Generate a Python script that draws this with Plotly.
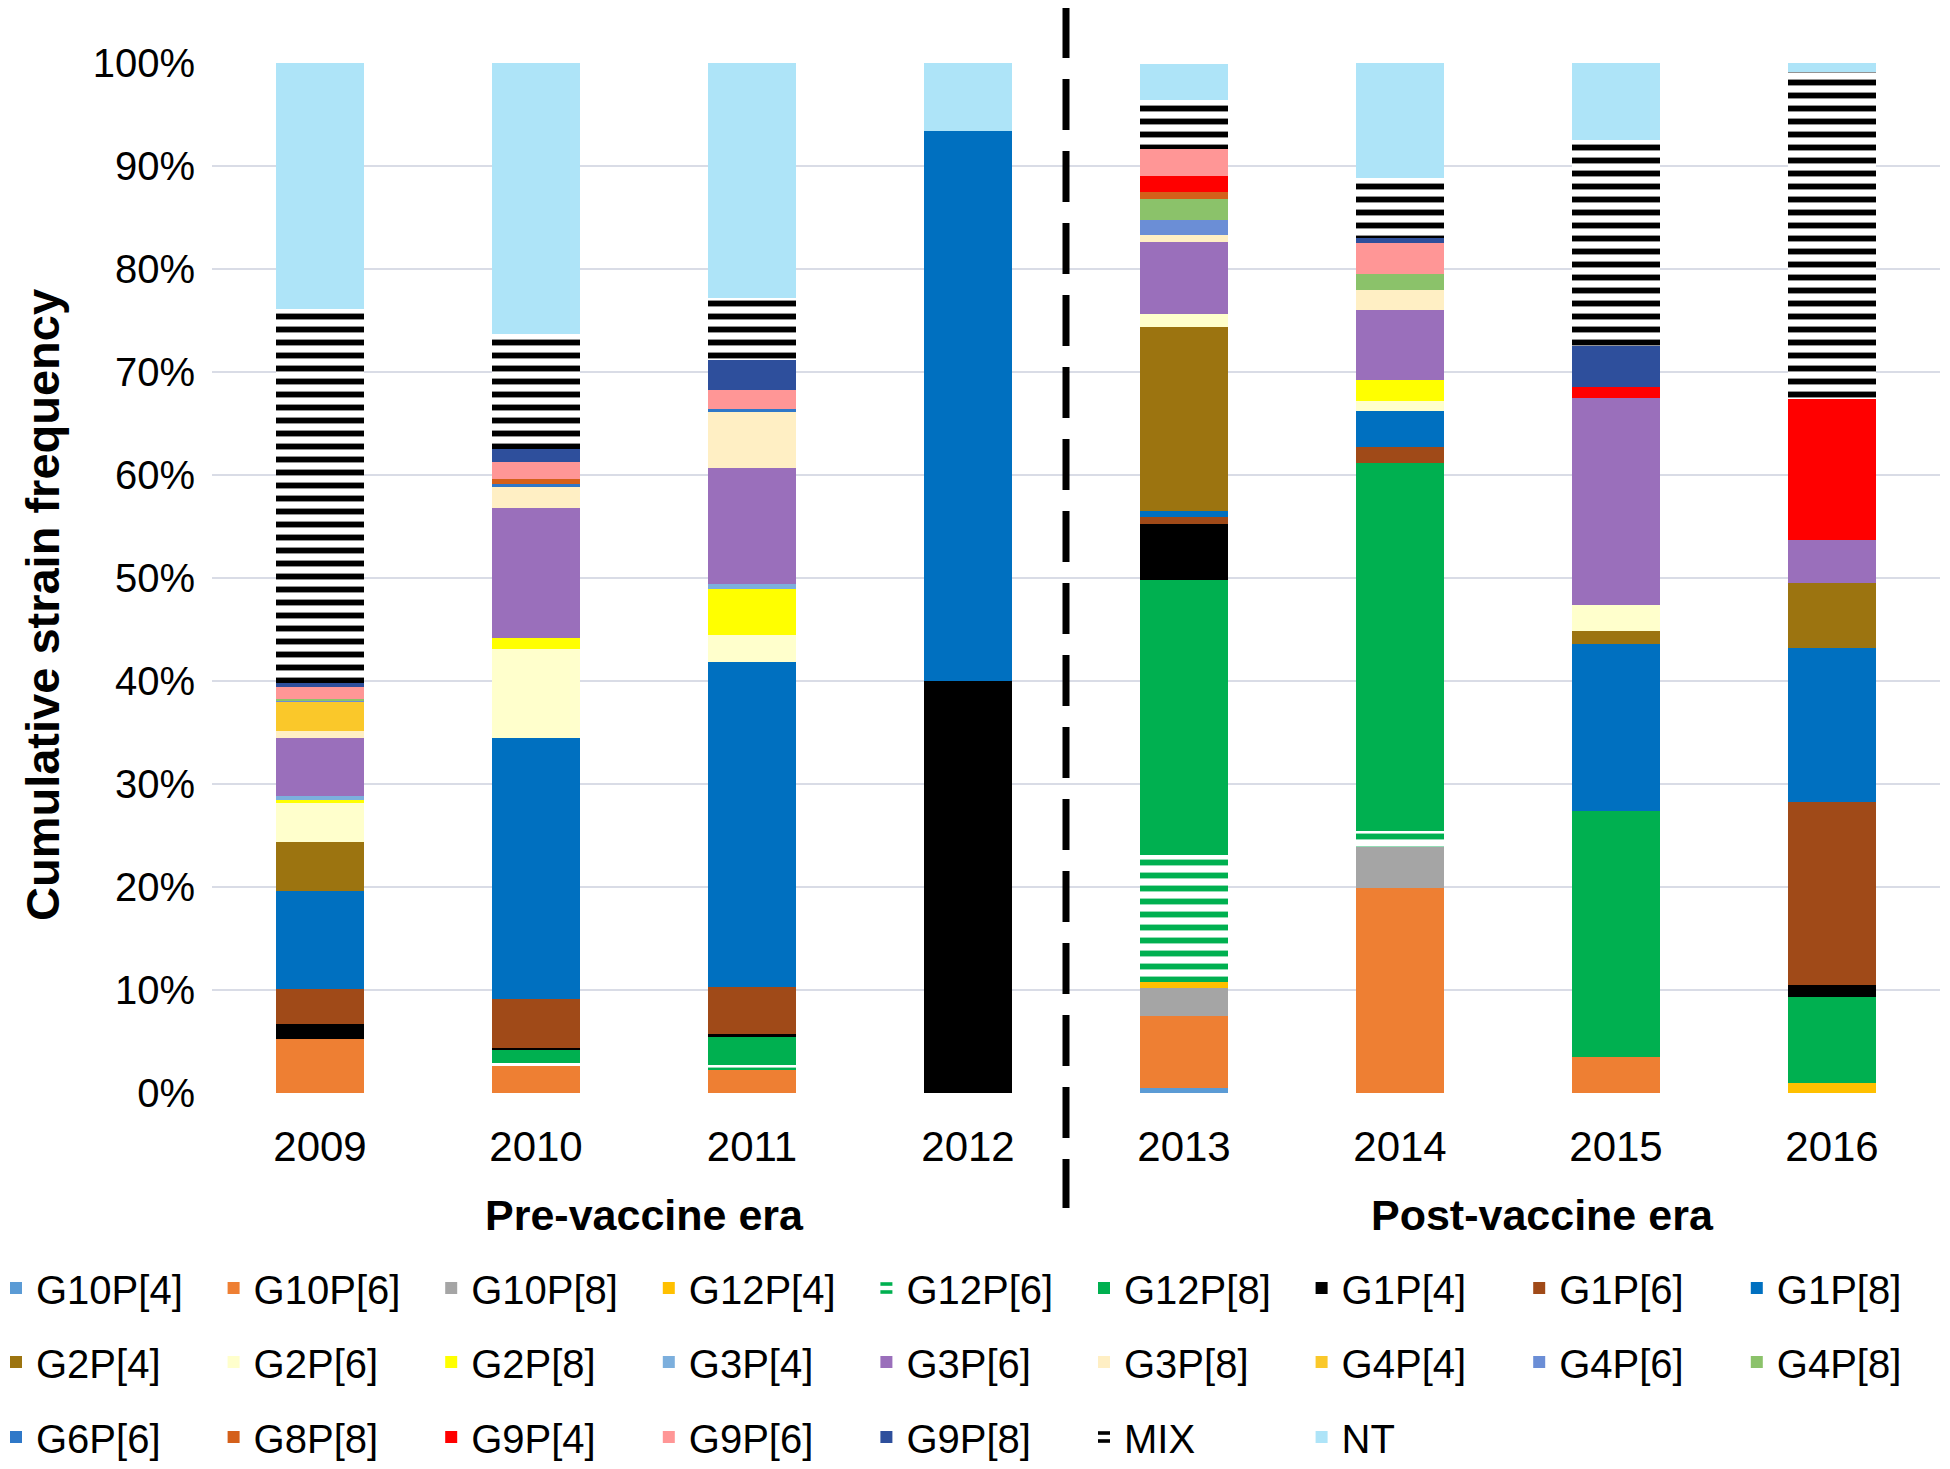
import plotly.graph_objects as go

years = ["2009", "2010", "2011", "2012", "2013", "2014", "2015", "2016"]

strains = ["G10P[4]", "G10P[6]", "G10P[8]", "G12P[4]", "G12P[6]", "G12P[8]", "G1P[4]", "G1P[6]", "G1P[8]",
           "G2P[4]", "G2P[6]", "G2P[8]", "G3P[4]", "G3P[6]", "G3P[8]", "G4P[4]", "G4P[6]", "G4P[8]",
           "G6P[6]", "G8P[8]", "G9P[4]", "G9P[6]", "G9P[8]", "MIX", "NT"]

# percentage of strains per year, stacked bottom -> top
G10P4 = [0, 0, 0, 0, 0.5, 0, 0, 0]
G10P6 = [5.2, 2.65, 2.2, 0, 7.0, 19.9, 3.5, 0]
G10P8 = [0, 0, 0, 0, 2.65, 4.0, 0, 0]
G12P4 = [0, 0, 0, 0, 0.65, 0, 0, 1.0]
G12P6 = [0, 0.3, 0.5, 0, 12.3, 1.5, 0, 0]
G12P8 = [0, 1.3, 2.7, 0, 26.7, 35.8, 23.9, 8.3]
G1P4 = [1.5, 0.15, 0.3, 40.0, 5.4, 0, 0, 1.2]
G1P6 = [3.4, 4.7, 4.6, 0, 0.7, 1.5, 0, 17.8]
G1P8 = [9.5, 25.4, 31.5, 53.4, 0.6, 3.5, 16.2, 14.9]
G2P4 = [4.8, 0, 0, 0, 17.9, 0, 1.3, 6.3]
G2P6 = [3.8, 8.6, 2.7, 0, 1.2, 1.0, 2.5, 0]
G2P8 = [0.2, 1.1, 4.4, 0, 0, 2.0, 0, 0]
G3P4 = [0.4, 0, 0.5, 0, 0, 0, 0, 0]
G3P6 = [5.7, 12.6, 11.3, 0, 7.0, 6.8, 20.1, 4.2]
G3P8 = [0.6, 2.0, 5.4, 0, 0.7, 2.0, 0, 0]
G4P4 = [2.9, 0, 0, 0, 0, 0, 0, 0]
G4P6 = [0.15, 0, 0, 0, 1.5, 0, 0, 0]
G4P8 = [0.15, 0, 0, 0, 2.0, 1.5, 0, 0]
G6P6 = [0, 0.3, 0.3, 0, 0, 0, 0, 0]
G8P8 = [0, 0.5, 0, 0, 0.7, 0, 0, 0]
G9P4 = [0, 0, 0, 0, 1.5, 0, 1.0, 13.7]
G9P6 = [1.1, 1.7, 1.9, 0, 2.65, 3.0, 0, 0]
G9P8 = [0.4, 1.2, 2.9, 0, 0, 0.5, 4.0, 0]
MIX = [36.3, 11.2, 6.0, 0, 4.8, 5.8, 20.0, 31.7]
NT = [23.9, 26.3, 22.8, 6.6, 3.5, 11.2, 7.5, 0.9]

values = [G10P4, G10P6, G10P8, G12P4, G12P6, G12P8, G1P4, G1P6, G1P8,
          G2P4, G2P6, G2P8, G3P4, G3P6, G3P8, G4P4, G4P6, G4P8,
          G6P6, G8P8, G9P4, G9P6, G9P8, MIX, NT]

colors = ["#5B9BD5", "#EE7F33", "#A5A5A5", "#FFC000", "#00B050", "#00B050", "#000000", "#A04A18", "#0070C0",
          "#9C7410", "#FFFFCC", "#FFFF00", "#7CAFDD", "#9A6FBB", "#FFEFC4", "#FAC82A", "#6B8ED6", "#8BC26A",
          "#2F78C8", "#D4601A", "#FF0000", "#FF9696", "#2E4F9C", "#000000", "#AEE4F8"]

striped = {"G12P[6]", "MIX"}

FONT = "Liberation Sans, Arial, sans-serif"

# page body has an 8px margin: figure coordinates = screen coordinates - 8
OFF = 8
W, H = 1950 - OFF, 1469 - OFF
PL, PR, PT, PB = 212, 1940, 63, 1093  # plot area in screen pixels
L, T = PL - OFF, PT - OFF
R, B = W - (PR - OFF), H - (PB - OFF)
pw, ph = PR - PL, PB - PT


def px_x(x):
    return (x - PL) / pw


def px_y(y):
    return (PB - y) / ph


COLW = 217.6  # legend column spacing in px
row_y = [1288, 1362, 1437]

fig = go.Figure()
for i, (name, vals, col) in enumerate(zip(strains, values, colors)):
    row, c = divmod(i, 9)
    part = 0 if c < 5 else 1
    idx = row * 2 + part + 1
    leg = "legend" if idx == 1 else "legend%d" % idx
    marker = dict(color=col, line=dict(width=0))
    if name in striped:
        marker["pattern"] = dict(shape="-", fgcolor=col, bgcolor="white", fgopacity=1,
                                 size=13, solidity=0.45)
    fig.add_trace(go.Bar(x=years, y=vals, name=name, marker=marker, legend=leg))

legends = {}
for row in range(3):
    for part in range(2):
        idx = row * 2 + part + 1
        key = "legend" if idx == 1 else "legend%d" % idx
        x0 = -4 + part * 5 * COLW
        legends[key] = dict(orientation="h", xanchor="left", yanchor="middle",
                            x=px_x(x0), y=px_y(row_y[row]),
                            font=dict(family=FONT, size=40, color="black"),
                            entrywidth=COLW - 45, entrywidthmode="pixels",
                            bgcolor="rgba(0,0,0,0)", borderwidth=0, traceorder="normal")

fig.update_layout(
    barmode="stack",
    bargap=0.593,
    width=W, height=H,
    margin=dict(l=L, r=R, t=T, b=B, autoexpand=False),
    plot_bgcolor="white", paper_bgcolor="white",
    font=dict(family=FONT, color="black"),
    xaxis=dict(type="category", showgrid=False, zeroline=False, showline=False,
               tickfont=dict(family=FONT, size=42, color="black"), ticklabelstandoff=25),
    yaxis=dict(range=[0, 100], dtick=10, ticksuffix="%", gridcolor="#D9DCE6", gridwidth=2,
               zeroline=False, showline=False,
               tickfont=dict(family=FONT, size=40, color="black"), ticklabelstandoff=16),
    **legends,
)

fig.add_shape(type="line", xref="paper", yref="paper",
              x0=px_x(1066), x1=px_x(1066), y0=px_y(7), y1=px_y(1208),
              line=dict(color="black", width=7, dash="51px,21px"))

fig.add_annotation(text="<b>Pre-vaccine era</b>", xref="x", yref="paper", x=1.5, y=px_y(1215),
                   showarrow=False, xanchor="center", yanchor="middle",
                   font=dict(family=FONT, size=43, color="black"))
fig.add_annotation(text="<b>Post-vaccine era</b>", xref="x", yref="paper", x=5.66, y=px_y(1215),
                   showarrow=False, xanchor="center", yanchor="middle",
                   font=dict(family=FONT, size=43, color="black"))
fig.add_annotation(text="<b>Cumulative strain frequency</b>", xref="paper", yref="paper",
                   x=px_x(42), y=px_y(605), textangle=-90, showarrow=False,
                   xanchor="center", yanchor="middle",
                   font=dict(family=FONT, size=47, color="black"))

fig.write_html("out.html")
